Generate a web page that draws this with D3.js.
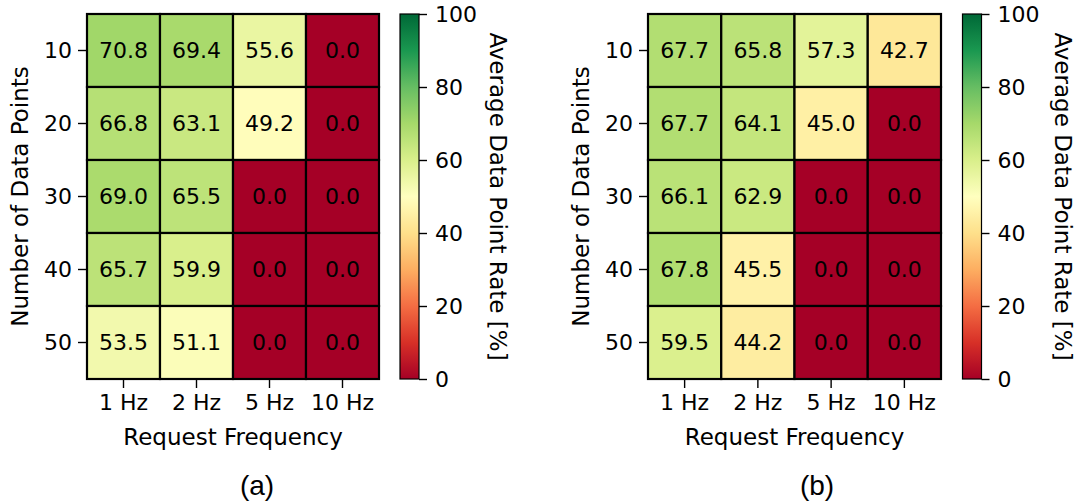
<!DOCTYPE html>
<html>
<head>
<meta charset="utf-8">
<script src="https://cdn.jsdelivr.net/npm/d3@7"></script>
<style>
  html, body { margin: 0; padding: 0; background: #fff; }
  svg { display: block; }
  text { font-family: "DejaVu Sans", sans-serif; fill: #000; }
</style>
</head>
<body>
<svg id="chart" width="1079" height="503"></svg>
<script>
// ---- data ----
const rowLabels = ["10", "20", "30", "40", "50"];
const colLabels = ["1 Hz", "2 Hz", "5 Hz", "10 Hz"];
const valuesA = [
  [70.8, 69.4, 55.6, 0.0],
  [66.8, 63.1, 49.2, 0.0],
  [69.0, 65.5, 0.0, 0.0],
  [65.7, 59.9, 0.0, 0.0],
  [53.5, 51.1, 0.0, 0.0]
];
const valuesB = [
  [67.7, 65.8, 57.3, 42.7],
  [67.7, 64.1, 45.0, 0.0],
  [66.1, 62.9, 0.0, 0.0],
  [67.8, 45.5, 0.0, 0.0],
  [59.5, 44.2, 0.0, 0.0]
];
const colorbarTicks = [0, 20, 40, 60, 80, 100];
const panelLabels = ["(a)", "(b)"];
const xTitle = "Request Frequency";
const yTitle = "Number of Data Points";
const cbTitle = "Average Data Point Rate [%]";

// matplotlib RdYlGn (linear segments of ColorBrewer colours)
const rdylgn = ["#a50026","#d73027","#f46d43","#fdae61","#fee08b","#ffffbf","#d9ef8b","#a6d96a","#66bd63","#1a9850","#006837"];
const color = d3.scaleLinear()
  .domain(d3.range(rdylgn.length).map(i => i * 100 / (rdylgn.length - 1)))
  .range(rdylgn)
  .interpolate(d3.interpolateRgb)
  .clamp(true);

const svg = d3.select("#chart");
const FS = 22;     // tick labels and cell annotations
const LFS = 23;    // axis titles

const panels = [
  { values: valuesA, x0: 87, x1: 379, cbx: 400, label: panelLabels[0], labelX: 257, cbTitleX: 498 },
  { values: valuesB, x0: 648, x1: 941, cbx: 962.5, label: panelLabels[1], labelX: 817, cbTitleX: 1063 }
];
const y0 = 14, y1 = 379, cbW = 19;

const defs = svg.append("defs");
const grad = defs.append("linearGradient").attr("id", "cbgrad")
  .attr("x1", 0).attr("y1", 1).attr("x2", 0).attr("y2", 0);
d3.range(0, 101, 2).forEach(v => {
  grad.append("stop").attr("offset", v + "%").attr("stop-color", color(v));
});

panels.forEach((p, pi) => {
  const g = svg.append("g");
  const x = d3.scaleBand().domain(colLabels).range([p.x0, p.x1]);
  const y = d3.scaleBand().domain(rowLabels).range([y0, y1]);

  const cells = [];
  p.values.forEach((row, ri) => row.forEach((v, ci) => cells.push({ r: rowLabels[ri], c: colLabels[ci], v })));

  g.selectAll("rect.cell").data(cells).enter().append("rect")
    .attr("class", "cell")
    .attr("x", d => x(d.c)).attr("y", d => y(d.r))
    .attr("width", x.bandwidth()).attr("height", y.bandwidth())
    .attr("fill", d => color(d.v))
    .attr("stroke", "#000").attr("stroke-width", 2.2);

  g.selectAll("text.val").data(cells).enter().append("text")
    .attr("class", "val")
    .attr("x", d => x(d.c) + x.bandwidth() / 2)
    .attr("y", d => y(d.r) + y.bandwidth() / 2)
    .attr("text-anchor", "middle").attr("dominant-baseline", "central")
    .style("font-size", FS + "px")
    .text(d => d.v.toFixed(1));

  // axes
  const yAxis = g.append("g").attr("transform", `translate(${p.x0 - 1},0)`)
    .call(d3.axisLeft(y).tickSize(8).tickPadding(6));
  const xAxis = g.append("g").attr("transform", `translate(0,${y1 + 1})`)
    .call(d3.axisBottom(x).tickSize(8).tickPadding(6));
  [yAxis, xAxis].forEach(a => {
    a.select(".domain").remove();
    a.selectAll(".tick line").attr("stroke", "#000").attr("stroke-width", 1.4);
    a.selectAll(".tick text").style("font-size", FS + "px").style("font-family", "DejaVu Sans");
  });
  xAxis.selectAll(".tick text").attr("dy", "0.71em");

  // axis titles
  g.append("text")
    .attr("x", (p.x0 + p.x1) / 2).attr("y", 445)
    .attr("text-anchor", "middle").style("font-size", LFS + "px")
    .text(xTitle);
  g.append("text")
    .attr("transform", `translate(${p.x0 - 67},${(y0 + y1) / 2}) rotate(-90)`)
    .attr("text-anchor", "middle").attr("dominant-baseline", "central")
    .style("font-size", LFS + "px")
    .text(yTitle);

  // colorbar
  const cy = d3.scaleLinear().domain([0, 100]).range([y1, y0]);
  g.append("rect")
    .attr("x", p.cbx).attr("y", y0).attr("width", cbW).attr("height", y1 - y0)
    .attr("fill", "url(#cbgrad)").attr("stroke", "#000").attr("stroke-width", 1.2);
  const cbAxis = g.append("g").attr("transform", `translate(${p.cbx + cbW},0)`)
    .call(d3.axisRight(cy).tickValues(colorbarTicks).tickSize(8).tickPadding(8));
  cbAxis.select(".domain").remove();
  cbAxis.selectAll(".tick line").attr("stroke", "#000").attr("stroke-width", 1.4);
  cbAxis.selectAll(".tick text").style("font-size", FS + "px").style("font-family", "DejaVu Sans");

  g.append("text")
    .attr("transform", `translate(${p.cbTitleX},${(y0 + y1) / 2}) rotate(90)`)
    .attr("text-anchor", "middle").attr("dominant-baseline", "central")
    .style("font-size", LFS + "px")
    .text(cbTitle);

  // panel label
  svg.append("text")
    .attr("x", p.labelX).attr("y", 495)
    .attr("text-anchor", "middle")
    .style("font-family", "Liberation Sans, Arial, sans-serif")
    .style("font-size", "28px")
    .text(p.label);
});
</script>
</body>
</html>
